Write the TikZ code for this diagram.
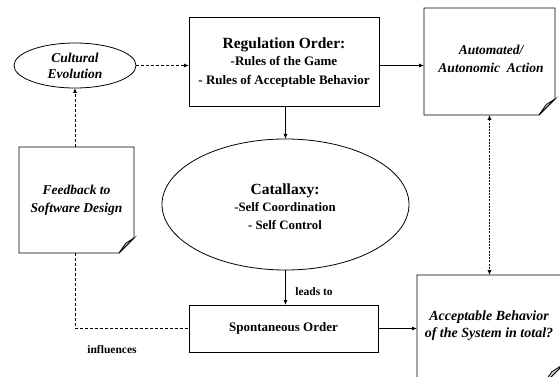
\documentclass[tikz,border=0pt]{standalone}
\usepackage{fontspec}
\setmainfont{Liberation Serif}
\usetikzlibrary{arrows.meta,calc,shapes.geometric}
\begin{document}
\begin{tikzpicture}[x=1pt,y=-1pt,
  every node/.style={inner sep=0pt,outer sep=0pt,align=center,font=\bfseries},
  line/.style={line width=0.8pt},
  arr/.style={line,-{Latex[length=5pt,width=4pt]}},
  dsh/.style={line,dash pattern=on 3pt off 2pt},
  rbox/.style={draw,line width=0.8pt,rectangle},
  ell/.style={draw,line width=0.8pt,ellipse},
  note/.style={rectangle},
  lbl/.style={font=\bfseries\fontsize{11.5}{13}\selectfont}
]
\useasboundingbox (0,0) rectangle (560,377);
\begin{scope}
\clip (0,0) rectangle (560,377);

% nodes
\node[ell,minimum width=122pt,minimum height=45pt,font=\bfseries\itshape\fontsize{13.5}{16}\selectfont] (cult) at (75,65.5) {Cultural\\Evolution};
\node[rbox,minimum width=190pt,minimum height=89pt] (reg) at (284,61.5) {};
\node[font=\bfseries\fontsize{13}{17}\selectfont] (regt) at (284,63)
  {{\fontsize{15.5}{17}\selectfont Regulation Order:}\\-Rules of the Game\\[2pt]- Rules of Acceptable Behavior};
\node[note,minimum width=131pt,minimum height=107pt] (auto) at (489.5,61.5) {};
\node[font=\bfseries\itshape\fontsize{13.5}{18}\selectfont] (autot) at (491,59) {Automated/\\Autonomic\ \ Action};
\node[note,minimum width=115pt,minimum height=106pt,font=\bfseries\itshape\fontsize{13.5}{18}\selectfont] (fb) at (76.5,200) {Feedback to\\Software Design};
\node[ell,minimum width=247pt,minimum height=131pt] (cat) at (285.5,204.5) {};
\node[font=\bfseries\fontsize{12.8}{17}\selectfont] (catt) at (285,207)
  {{\fontsize{15.5}{17}\selectfont Catallaxy:}\\-Self Coordination\\[1pt]- Self Control};
\node[rbox,minimum width=189pt,minimum height=47pt,font=\bfseries\fontsize{13}{15}\selectfont] (spont) at (283.5,328.5) {Spontaneous Order};
\node[note,minimum width=147pt,minimum height=111pt] (acc) at (490.5,330.5) {};
\node[font=\bfseries\itshape\fontsize{14}{17}\selectfont] (acct) at (489,326) {Acceptable Behavior\\of the System in total?};

% folded note outlines
\foreach \n/\f in {auto/16,fb/15,acc/22}{
  \draw[line] (\n.north west) -- (\n.north east) -- ($(\n.south east)+(0,-\f)$)
     -- ($(\n.south east)+(-\f,0)$) -- (\n.south west) -- cycle;
  \filldraw[line,fill=gray!35] ($(\n.south east)+(0,-\f)$) -- ($(\n.south east)+(-0.55*\f,-0.65*\f)$)
     -- ($(\n.south east)+(-\f,0)$) -- cycle;
}

% connectors
\draw[arr,dsh] (cult.east) -- (cult.east -| reg.west);
\draw[arr] (reg.east |- cult.east) -- (auto.west |- cult.east);
\draw[arr] (reg.south -| cat.north) -- (cat.north);
\draw[arr] (cat.south) -- (cat.south |- spont.north);
\node[lbl] (leads) at (314,292) {leads to};
\draw[arr] (spont.east) -- (spont.east -| acc.west);
\draw[line width=1.6pt,dash pattern=on 2pt off 1.2pt,{Latex[length=5pt,width=4.5pt]}-{Latex[length=5pt,width=4.5pt]}] (auto.south) -- (auto.south |- acc.north);
\draw[arr,dsh] (fb.north -| cult.south) -- (cult.south);
\draw[dsh] (fb.south -| cult.south) |- (spont.west);
\node[lbl] (infl) at (112,350) {influences};
\end{scope}
\end{tikzpicture}
\end{document}
